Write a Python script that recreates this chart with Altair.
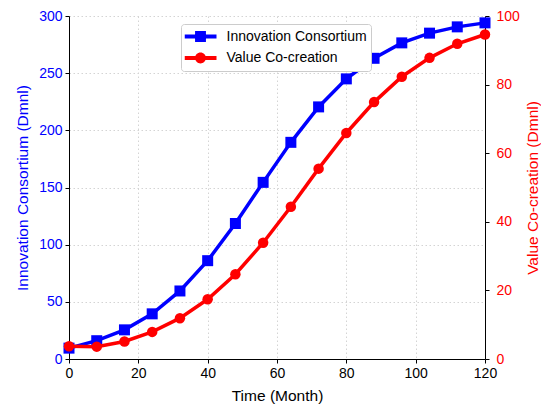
import altair as alt
import pandas as pd

months = [0, 8, 16, 24, 32, 40, 48, 56, 64, 72, 80, 88, 96, 104, 112, 120]
innovation = [9.5, 16, 25.5, 39.5, 59.5, 86, 118.5, 154.5, 189.5, 220.5, 245, 263, 276.5, 285, 290.5, 294]
value_cc = [3.7, 3.6, 5.1, 7.9, 11.9, 17.4, 24.7, 33.9, 44.4, 55.5, 65.9, 74.9, 82.3, 87.8, 91.9, 94.6]
series = ["Innovation Consortium", "Value Co-creation"]
colors = ["#0000FF", "#FF0000"]

FONT = "Liberation Sans"

df_ic = pd.DataFrame({"month": months, "value": innovation})
df_vc = pd.DataFrame({"month": months, "value": value_cc})
df_leg = pd.DataFrame({"series": series})

x_enc = alt.X("month:Q", scale=alt.Scale(domain=[0, 120], nice=False),
              axis=alt.Axis(title="Time (Month)", values=[0, 20, 40, 60, 80, 100, 120],
                            grid=True, gridDash=[1.5, 2.5], gridColor="#d4d4d4",
                            domainColor="black", tickColor="black", labelColor="black",
                            titleColor="black", labelFontSize=14, titleFontSize=15.5,
                            labelFont=FONT, titleFont=FONT, tickSize=4, labelPadding=3,
                            titlePadding=8, titleFontWeight="normal", labelFlush=False))

ic_base = alt.Chart(df_ic).encode(
    x=x_enc,
    y=alt.Y("value:Q", scale=alt.Scale(domain=[0, 300], nice=False),
            axis=alt.Axis(title="Innovation Consortium (Dmnl)", orient="left",
                          values=[0, 50, 100, 150, 200, 250, 300],
                          grid=True, gridDash=[1.5, 2.5], gridColor="#d4d4d4",
                          domainColor="black", tickColor="black",
                          labelColor=colors[0], titleColor=colors[0],
                          labelFontSize=14, titleFontSize=15.5, labelFont=FONT, titleFont=FONT,
                          tickSize=4, labelPadding=3, titlePadding=8,
                          titleFontWeight="normal", labelFlush=False)),
)
ic_layer = alt.layer(
    ic_base.mark_line(color=colors[0], strokeWidth=3.5),
    ic_base.mark_point(shape="square", filled=True, color=colors[0], size=121, opacity=1),
)

vc_base = alt.Chart(df_vc).encode(
    x=x_enc,
    y=alt.Y("value:Q", scale=alt.Scale(domain=[0, 100], nice=False),
            axis=alt.Axis(title="Value Co-creation (Dmnl)", orient="right",
                          values=[0, 20, 40, 60, 80, 100], grid=False,
                          domainColor="black", tickColor="black",
                          labelColor=colors[1], titleColor=colors[1],
                          labelFontSize=14, titleFontSize=15.5, labelFont=FONT, titleFont=FONT,
                          tickSize=4, labelPadding=7, titlePadding=21, titleAngle=270,
                          titleFontWeight="normal", labelFlush=False)),
)
vc_layer = alt.layer(
    vc_base.mark_line(color=colors[1], strokeWidth=3.5),
    vc_base.mark_point(shape="circle", filled=True, color=colors[1], size=110, opacity=1),
)

line_bar = "M-1,-0.125H1V0.125H-1Z"
square_path = line_bar + " M-0.34,-0.34H0.34V0.34H-0.34Z"
circle_path = line_bar + (" M0.34,0C0.34,0.1878 0.1878,0.34 0,0.34C-0.1878,0.34 -0.34,0.1878 -0.34,0"
                          "C-0.34,-0.1878 -0.1878,-0.34 0,-0.34C0.1878,-0.34 0.34,-0.1878 0.34,0Z")

legend_layer = alt.Chart(df_leg).transform_filter("false").mark_point(filled=True, opacity=1).encode(
    color=alt.Color("series:N", scale=alt.Scale(domain=series, range=colors),
                    legend=alt.Legend(title=None, orient="none", legendX=112, legendY=8)),
    shape=alt.Shape("series:N", scale=alt.Scale(domain=series, range=[square_path, circle_path]),
                    legend=alt.Legend(title=None, orient="none", legendX=112, legendY=8)),
)

chart = alt.layer(ic_layer, vc_layer, legend_layer).resolve_scale(
    y="independent"
).properties(
    width=416, height=343,
    padding={"left": 7, "top": 1, "right": 0, "bottom": 2},
).configure_view(stroke=None).configure_legend(
    symbolSize=1024, clipHeight=18, rowPadding=3.5, labelOffset=10, symbolOffset=0,
    padding=3.5, strokeColor="#cccccc", fillColor="white", cornerRadius=3,
    labelFontSize=14, labelFont=FONT, labelColor="black", symbolStrokeWidth=0,
    symbolOpacity=1,
)

chart.save("out.html", embed_options={"renderer": "svg", "actions": False})
